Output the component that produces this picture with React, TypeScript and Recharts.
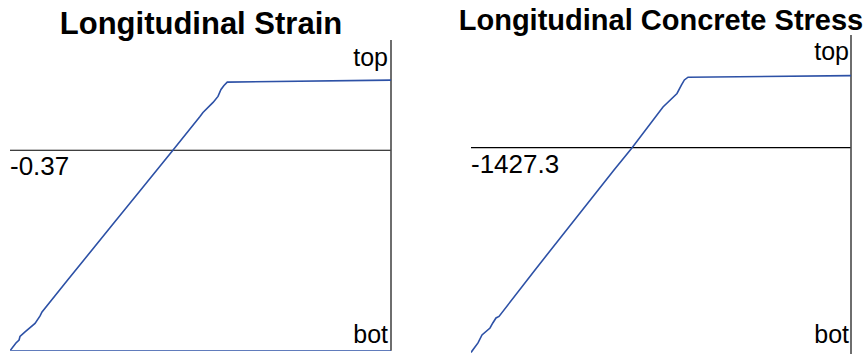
import React from "react";
import { LineChart, Line, XAxis, YAxis, ReferenceLine } from "recharts";

// Section depth measured from the bottom fibre (0) upward; the section top sits at 270.
const depthDomain: [number, number] = [0, 310];
const neutralDepth = 200;

// Longitudinal strain profile, closed back to the zero axis along the bottom fibre.
const strainValues = [0, -0.37, -0.3642, -0.3612, -0.3603, -0.3554, -0.3457, -0.3408, -0.3389, -0.3146, -0.2729, -0.2437, -0.212, -0.1855, -0.1826, -0.1728, -0.168, -0.1651, -0.1622, -0.159, 0];
const strainDepths = [0, 0, 7.7, 10.7, 14.2, 18.7, 27.2, 34.7, 38.7, 69.7, 122.7, 159.7, 199.7, 233.7, 237.7, 247.7, 253.7, 260.7, 264.7, 268, 270];
const strainMin = -0.37;

// Longitudinal concrete stress profile.
const stressValues = [-1427.3, -1401.0, -1386.0, -1355.9, -1345.4, -1333.4, -1322.1, -1186.9, -890.2, -823.7, -706.1, -653.5, -636.6, -625.8, -612.2, 0];
const stressDepths = [0, 9.3, 17.1, 23.9, 28.8, 33.7, 35.2, 80.6, 178.2, 199.4, 239.7, 252.9, 261.2, 266.1, 268.8, 270.3];
const stressMin = -1427.3;

const titles = ["Longitudinal Strain", "Longitudinal Concrete Stress"];
const endLabels = ["top", "bot"];

const strainData = strainValues.map((v, i) => ({ v, d: strainDepths[i] }));
const stressData = stressValues.map((v, i) => ({ v, d: stressDepths[i] }));

const BLUE = "#2d51a6";
const FONT = "'Liberation Sans', Arial, Helvetica, sans-serif";

function Profile({
  data,
  xMin,
  yDomain,
  margin,
}: {
  data: { v: number; d: number }[];
  xMin: number;
  yDomain: [number, number];
  margin: { top: number; right: number; bottom: number; left: number };
}) {
  return (
    <LineChart width={433} height={354} data={data} margin={margin}>
      <XAxis type="number" dataKey="v" domain={[xMin, 0]} allowDataOverflow hide />
      <YAxis type="number" domain={yDomain} allowDataOverflow hide />
      <ReferenceLine y={neutralDepth} stroke="#000" strokeWidth={1.2} />
      <ReferenceLine x={0} stroke="#4a4a4a" strokeWidth={1.6} />
      <Line
        dataKey="d"
        stroke={BLUE}
        strokeWidth={1.6}
        dot={false}
        activeDot={false}
        isAnimationActive={false}
        type="linear"
      />
    </LineChart>
  );
}

export default function App() {
  return (
    <div style={{ position: "absolute", left: 0, top: 0, width: 866, height: 354, background: "#fff", overflow: "hidden" }}>
      <div style={{ position: "absolute", left: 0, top: 0 }}>
        <Profile data={strainData} xMin={strainMin} yDomain={depthDomain} margin={{ top: 40, right: 42, bottom: 3.3, left: 10 }} />
      </div>
      <div style={{ position: "absolute", left: 433, top: 0 }}>
        <Profile data={stressData} xMin={stressMin} yDomain={[-1.5, 310]} margin={{ top: 35, right: 15, bottom: 0, left: 38 }} />
      </div>
      <svg width={866} height={354} style={{ position: "absolute", left: 0, top: 0, pointerEvents: "none" }} fontFamily={FONT}>
        <text x={201} y={34} textAnchor="middle" fontWeight="bold" fontSize={31} fill="#000">{titles[0]}</text>
        <text x={661} y={30} textAnchor="middle" fontWeight="bold" fontSize={29} fill="#000">{titles[1]}</text>
        <text x={388} y={66} textAnchor="end" fontSize={25} fill="#000">{endLabels[0]}</text>
        <text x={388} y={343} textAnchor="end" fontSize={25} fill="#000">{endLabels[1]}</text>
        <text x={10} y={175} fontSize={26} fill="#000">{String(strainMin)}</text>
        <text x={849} y={60} textAnchor="end" fontSize={25} fill="#000">{endLabels[0]}</text>
        <text x={849} y={343} textAnchor="end" fontSize={25} fill="#000">{endLabels[1]}</text>
        <text x={471} y={173} fontSize={26} fill="#000">{String(stressMin)}</text>
      </svg>
    </div>
  );
}
